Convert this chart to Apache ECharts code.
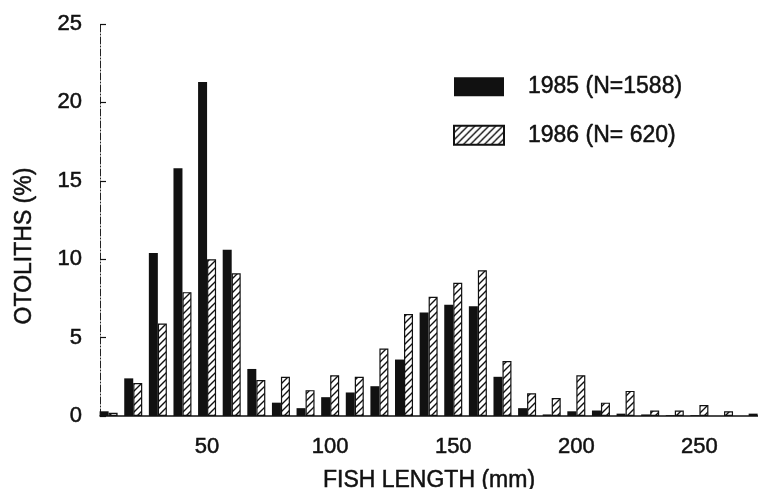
<!DOCTYPE html>
<html>
<head>
<meta charset="utf-8">
<script src="https://cdn.jsdelivr.net/npm/echarts@6/dist/echarts.min.js"></script>
<style>
  html, body { margin: 0; padding: 0; background: #fff; }
  #otolithChart { width: 758px; height: 489px; }
</style>
</head>
<body>
<div id="otolithChart"></div>
<script>
// fish length classes (mm)
const lengths = [10, 20, 30, 40, 50, 60, 70, 80, 90, 100, 110, 120, 130, 140, 150, 160, 170, 180, 190, 200, 210, 220, 230, 240, 250, 260, 270]
// percentage of otoliths per length class
const pct1985 = [0.3, 2.4, 10.4, 15.8, 21.3, 10.6, 3.0, 0.85, 0.5, 1.2, 1.5, 1.9, 3.6, 6.6, 7.1, 7.0, 2.5, 0.5, 0.1, 0.3, 0.35, 0.15, 0.1, 0.05, 0.05, 0, 0]
const pct1986 = [0.2, 2.1, 5.9, 7.9, 10.0, 9.1, 2.3, 2.5, 1.65, 2.6, 2.5, 4.3, 6.5, 7.6, 8.5, 9.3, 3.5, 1.45, 1.15, 2.6, 0.85, 1.6, 0.35, 0.35, 0.7, 0.3, 0.15]
const xTicks = [50, 100, 150, 200, 250]
const seriesNames = ['1985 (N=1588)', '1986 (N= 620)']

// diagonal hatch for the 1986 bars
function hatchPattern () {
  const c = document.createElement('canvas')
  c.width = 7
  c.height = 7
  const ctx = c.getContext('2d')
  ctx.fillStyle = '#fff'
  ctx.fillRect(0, 0, 7, 7)
  ctx.strokeStyle = '#111'
  ctx.lineWidth = 1.4
  ctx.beginPath()
  ctx.moveTo(-1, 8)
  ctx.lineTo(8, -1)
  ctx.moveTo(-1, 1)
  ctx.lineTo(1, -1)
  ctx.moveTo(6, 8)
  ctx.lineTo(8, 6)
  ctx.stroke()
  return c
}

const font = 'Liberation Sans'
// slightly heavier strokes, like the scanned lettering
const ink = { color: '#111', textBorderColor: '#111', textBorderWidth: 0.5 }
const chart = echarts.init(document.getElementById('otolithChart'))

const option = {
  animation: false,
  textStyle: { fontFamily: font, color: '#111' },
  grid: { left: 100, right: 0, top: 24, bottom: 73, outerBoundsMode: 'none' },
  legend: {
    orient: 'vertical',
    left: 448,
    top: 70,
    icon: 'rect',
    itemWidth: 50,
    itemHeight: 19,
    itemGap: 25,
    textStyle: Object.assign({ fontSize: 23, padding: [0, 0, 0, 19] }, ink),
    data: seriesNames
  },
  xAxis: {
    type: 'value',
    min: 6.5,
    max: 273.8,
    name: 'FISH LENGTH (mm)',
    nameLocation: 'middle',
    nameGap: 53,
    nameTextStyle: Object.assign({ fontSize: 23 }, ink),
    splitLine: { show: false },
    axisTick: { show: false },
    axisLine: { lineStyle: { color: '#111', width: 1.5 } },
    axisLabel: Object.assign({ customValues: xTicks, fontSize: 22, margin: 20 }, ink)
  },
  yAxis: {
    type: 'value',
    min: 0,
    max: 25,
    interval: 5,
    name: 'OTOLITHS (%)',
    nameLocation: 'middle',
    nameRotate: 90,
    nameGap: 64,
    // title sits a bit below the middle of the axis in the original
    nameTextStyle: Object.assign({ fontSize: 23, padding: [0, 52, 0, 0] }, ink),
    splitLine: { show: false },
    axisLine: { show: true, lineStyle: { color: '#222', width: 1, type: [7, 2, 1, 2] } },
    axisTick: { show: true, inside: true, length: 6, lineStyle: { color: '#111', width: 1.2 } },
    axisLabel: Object.assign({ fontSize: 22, margin: 18 }, ink)
  },
  series: [
    {
      name: seriesNames[0],
      type: 'bar',
      barWidth: 9,
      barGap: '0%',
      itemStyle: { color: '#111' },
      data: lengths.map((l, i) => [l, pct1985[i]])
    },
    {
      name: seriesNames[1],
      type: 'bar',
      barWidth: 9,
      barGap: '0%',
      itemStyle: {
        color: { image: hatchPattern(), repeat: 'repeat' },
        borderColor: '#111',
        borderWidth: 1.2
      },
      data: lengths.map((l, i) => [l, pct1986[i]])
    }
  ]
}

chart.setOption(option)
</script>
</body>
</html>
